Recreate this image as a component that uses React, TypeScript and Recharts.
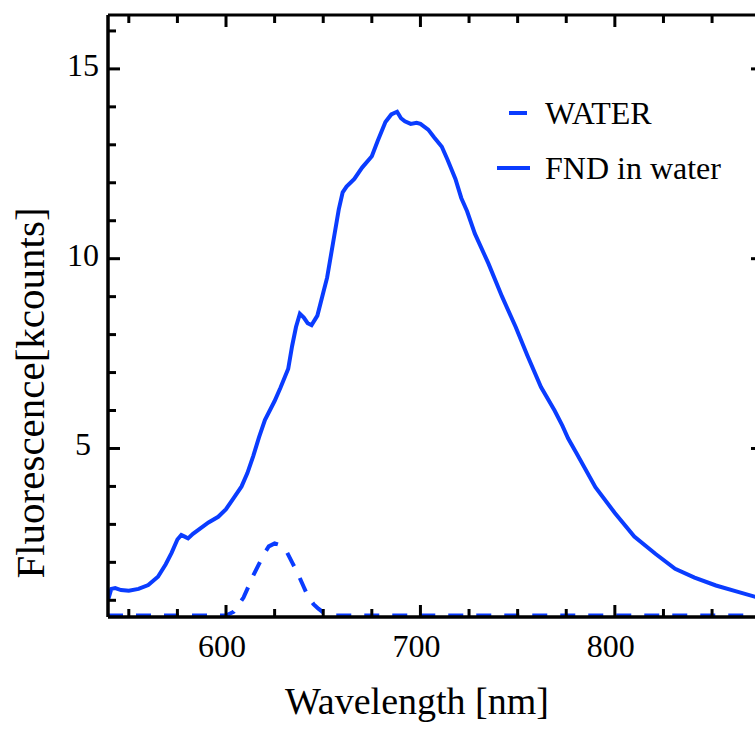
import React from "react";
import { LineChart, Line, XAxis, YAxis, Legend, Label } from "recharts";

// FND in water spectrum (nm, kcounts)
const fndWavelength = [
  539.3, 541, 543, 546, 550, 555, 560, 565, 569, 572, 575, 577, 579, 580.5, 583, 587, 591, 596, 600,
  604, 608, 611, 614, 617, 620, 625, 628, 632, 634, 636, 638, 640, 642, 644, 647, 650, 652, 655, 658,
  660, 662, 666, 670, 675, 678, 682, 685, 688, 690, 692, 695, 698, 700, 704, 707, 711, 714, 718, 721,
  724, 728, 735, 742, 749, 755, 762, 769, 773, 776, 780, 790, 800, 810, 821, 831, 841, 852, 862, 873,
  876,
];
const fndCounts = [
  1.0, 1.3, 1.32, 1.27, 1.25, 1.3, 1.4, 1.62, 1.95, 2.25, 2.6, 2.72, 2.67, 2.63, 2.75, 2.9, 3.05, 3.2,
  3.4, 3.7, 4.0, 4.35, 4.8, 5.3, 5.75, 6.25, 6.6, 7.1, 7.7, 8.2, 8.55, 8.45, 8.3, 8.25, 8.5, 9.1, 9.5,
  10.4, 11.3, 11.75, 11.9, 12.1, 12.4, 12.7, 13.1, 13.6, 13.8, 13.87, 13.7, 13.62, 13.55, 13.58, 13.55,
  13.4, 13.2, 12.95, 12.6, 12.1, 11.6, 11.25, 10.66, 9.87, 9.0, 8.2, 7.45, 6.62, 6.0, 5.6, 5.26, 4.9,
  3.98, 3.3, 2.68, 2.22, 1.83, 1.6, 1.39, 1.24, 1.08, 1.04,
];

// WATER background (nm, kcounts)
const waterWavelength = [
  539.3, 560, 580, 600, 604, 609, 614, 619.6, 622, 625, 628, 631, 634, 637, 640, 642, 645, 647.5, 650,
  655, 700, 800, 876,
];
const waterCounts = [
  0.6, 0.6, 0.6, 0.6, 0.7, 1.07, 1.65, 2.23, 2.42, 2.5, 2.45, 2.3, 2.0, 1.7, 1.35, 1.12, 0.9, 0.78, 0.68,
  0.6, 0.6, 0.6, 0.6,
];

const seriesNames = ["WATER", "FND in water"];
const xTicks = [550, 575, 600, 625, 650, 675, 700, 725, 750, 775, 800, 825, 850, 875];
const xMajorTicks = [600, 700, 800];
const yTicks = [1, 2, 3, 4, 5, 6, 7, 8, 9, 10, 11, 12, 13, 14, 15, 16];
const yMajorTicks = [5, 10, 15];

const fndData = fndWavelength.map((x, i) => ({ x, y: fndCounts[i] }));
const waterData = waterWavelength.map((x, i) => ({ x, y: waterCounts[i] }));

const BLUE = "#0a3cff";
const FONT = "'Liberation Serif', 'Times New Roman', serif";
const X_DOMAIN: [number, number] = [539.3, 876.2];
const Y_DOMAIN: [number, number] = [0.56, 16.42];

// inward pointing ticks, labels only on major values
function BottomTick(p: any) {
  const major = xMajorTicks.includes(p.payload.value);
  return (
    <g>
      <line x1={p.x} x2={p.x} y1={p.y} y2={p.y - (major ? 12 : 8)} stroke="#000" strokeWidth={3} />
      {major && (
        <text x={p.x - 4} y={p.y + 40} textAnchor="middle" fontSize={32} fontFamily={FONT} fill="#000">
          {p.payload.value}
        </text>
      )}
    </g>
  );
}

function TopTick(p: any) {
  const major = xMajorTicks.includes(p.payload.value);
  return <line x1={p.x} x2={p.x} y1={p.y} y2={p.y + (major ? 12 : 8)} stroke="#000" strokeWidth={3} />;
}

function LeftTick(p: any) {
  const major = yMajorTicks.includes(p.payload.value);
  return (
    <g>
      <line x1={p.x} x2={p.x + (major ? 12 : 8)} y1={p.y} y2={p.y} stroke="#000" strokeWidth={3} />
      {major && (
        <text x={83} y={p.y + 7} textAnchor="middle" fontSize={32} fontFamily={FONT} fill="#000">
          {p.payload.value}
        </text>
      )}
    </g>
  );
}

function RightTick(p: any) {
  const major = yMajorTicks.includes(p.payload.value);
  return <line x1={p.x} x2={p.x - (major ? 12 : 8)} y1={p.y} y2={p.y} stroke="#000" strokeWidth={3} />;
}

function LegendBox() {
  return (
    <svg width={265} height={110} style={{ display: "block" }}>
      <line x1={19} x2={37} y1={23} y2={23} stroke={BLUE} strokeWidth={4} />
      <text x={55} y={34} fontSize={32} fontFamily={FONT} fill="#000">
        {seriesNames[0]}
      </text>
      <line x1={7} x2={40} y1={78} y2={78} stroke={BLUE} strokeWidth={4} />
      <text x={55} y={89} fontSize={32} fontFamily={FONT} fill="#000">
        {seriesNames[1]}
      </text>
    </svg>
  );
}

export default function App() {
  return (
    <div style={{ position: "absolute", left: 0, top: 0, width: 755, height: 729, overflow: "hidden", background: "#fff" }}>
      <LineChart width={775} height={729} margin={{ top: 5, right: 0, bottom: 0, left: 0 }}>
        <XAxis
          dataKey="x"
          type="number"
          domain={X_DOMAIN}
          allowDataOverflow
          ticks={xTicks}
          interval={0}
          height={112}
          tickSize={0}
          tickMargin={0}
          tickLine={false}
          tick={(p: any) => <BottomTick {...p} />}
          axisLine={{ stroke: "#000", strokeWidth: 3.5 }}
        >
          <Label
            content={() => (
              <text x={417} y={714} textAnchor="middle" fontSize={38} fontFamily={FONT} fill="#000">
                Wavelength [nm]
              </text>
            )}
          />
        </XAxis>
        <XAxis
          xAxisId="top"
          orientation="top"
          dataKey="x"
          type="number"
          domain={X_DOMAIN}
          allowDataOverflow
          ticks={xTicks}
          interval={0}
          height={10}
          tickSize={0}
          tickMargin={0}
          tickLine={false}
          tick={(p: any) => <TopTick {...p} />}
          axisLine={{ stroke: "#000", strokeWidth: 3 }}
        />
        <YAxis
          type="number"
          domain={Y_DOMAIN}
          allowDataOverflow
          ticks={yTicks}
          interval={0}
          width={108}
          tickSize={0}
          tickMargin={0}
          tickLine={false}
          tick={(p: any) => <LeftTick {...p} />}
          axisLine={{ stroke: "#000", strokeWidth: 3.5 }}
        >
          <Label
            content={() => (
              <text
                transform="translate(44,393) rotate(-90)"
                textAnchor="middle"
                fontSize={41}
                fontFamily={FONT}
                fill="#000"
              >
                Fluorescence[kcounts]
              </text>
            )}
          />
        </YAxis>
        <YAxis
          yAxisId="right"
          orientation="right"
          type="number"
          domain={Y_DOMAIN}
          allowDataOverflow
          ticks={yTicks}
          interval={0}
          width={12}
          tickSize={0}
          tickMargin={0}
          tickLine={false}
          tick={(p: any) => <RightTick {...p} />}
          axisLine={{ stroke: "#000", strokeWidth: 3 }}
        />
        <Legend
          verticalAlign="middle"
          align="center"
          layout="horizontal"
          wrapperStyle={{ position: "absolute", left: 490, top: 90, width: 265 }}
          content={() => <LegendBox />}
        />
        <Line
          data={waterData}
          dataKey="y"
          name={seriesNames[0]}
          type="linear"
          stroke={BLUE}
          strokeWidth={4}
          strokeDasharray="15 13"
          dot={false}
          isAnimationActive={false}
        />
        <Line
          data={fndData}
          dataKey="y"
          name={seriesNames[1]}
          type="linear"
          stroke={BLUE}
          strokeWidth={4}
          dot={false}
          isAnimationActive={false}
        />
      </LineChart>
    </div>
  );
}
